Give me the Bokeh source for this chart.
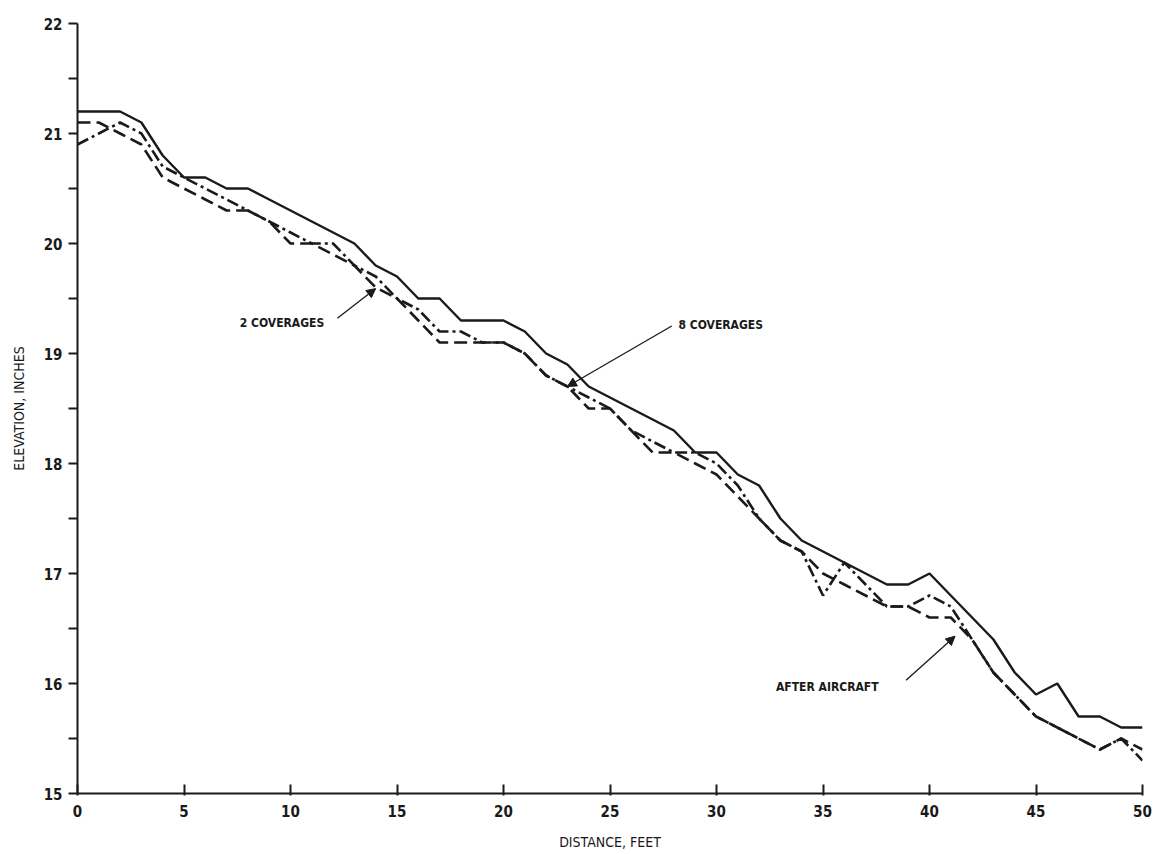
from bokeh.plotting import figure
from bokeh.models import Range1d, Label, Arrow, NormalHead, FixedTicker
from bokeh.embed import file_html
from bokeh.resources import INLINE

# Distance along the test strip, feet
distance = list(range(0, 51))

# Surface elevation, inches
coverages_8 = [21.2, 21.2, 21.2, 21.1, 20.8, 20.6, 20.6, 20.5, 20.5, 20.4,
               20.3, 20.2, 20.1, 20.0, 19.8, 19.7, 19.5, 19.5, 19.3, 19.3,
               19.3, 19.2, 19.0, 18.9, 18.7, 18.6, 18.5, 18.4, 18.3, 18.1,
               18.1, 17.9, 17.8, 17.5, 17.3, 17.2, 17.1, 17.0, 16.9, 16.9,
               17.0, 16.8, 16.6, 16.4, 16.1, 15.9, 16.0, 15.7, 15.7, 15.6,
               15.6]
coverages_2 = [21.1, 21.1, 21.0, 20.9, 20.6, 20.5, 20.4, 20.3, 20.3, 20.2,
               20.0, 20.0, 19.9, 19.8, 19.6, 19.5, 19.3, 19.1, 19.1, 19.1,
               19.1, 19.0, 18.8, 18.7, 18.5, 18.5, 18.3, 18.1, 18.1, 18.0,
               17.9, 17.7, 17.5, 17.3, 17.2, 17.0, 16.9, 16.8, 16.7, 16.7,
               16.6, 16.6, 16.4, 16.1, 15.9, 15.7, 15.6, 15.5, 15.4, 15.5,
               15.4]
after_aircraft = [20.9, 21.0, 21.1, 21.0, 20.7, 20.6, 20.5, 20.4, 20.3, 20.2,
                  20.1, 20.0, 20.0, 19.8, 19.7, 19.5, 19.4, 19.2, 19.2, 19.1,
                  19.1, 19.0, 18.8, 18.7, 18.6, 18.5, 18.3, 18.2, 18.1, 18.1,
                  18.0, 17.8, 17.5, 17.3, 17.2, 16.8, 17.1, 16.9, 16.7, 16.7,
                  16.8, 16.7, 16.4, 16.1, 15.9, 15.7, 15.6, 15.5, 15.4, 15.5,
                  15.3]

x_ticks = [0, 5, 10, 15, 20, 25, 30, 35, 40, 45, 50]
y_ticks = [15, 16, 17, 18, 19, 20, 21, 22]

p = figure(width=1161, height=854, output_backend="svg", toolbar_location=None,
           x_range=Range1d(0, 50), y_range=Range1d(15, 22))
p.min_border_left = 77
p.min_border_right = 19
p.min_border_top = 23
p.min_border_bottom = 61
p.outline_line_color = None
p.xgrid.visible = False
p.ygrid.visible = False
p.background_fill_color = "#ffffff"
p.border_fill_color = "#ffffff"

ink = "#1a1a1a"

p.line(distance, coverages_8, line_color=ink, line_width=2.4)
p.line(distance, coverages_2, line_color=ink, line_width=2.6, line_dash="13 6")
p.line(distance, after_aircraft, line_color=ink, line_width=2.6, line_dash="12 4 3 4")

# axes
p.xaxis.ticker = FixedTicker(ticks=x_ticks)
p.yaxis.ticker = FixedTicker(ticks=y_ticks,
                             minor_ticks=[15.5, 16.5, 17.5, 18.5, 19.5, 20.5, 21.5])
for ax in (p.xaxis[0], p.yaxis[0]):
    ax.axis_line_color = ink
    ax.axis_line_width = 2
    ax.major_tick_line_color = ink
    ax.major_tick_line_width = 2
    ax.minor_tick_line_color = ink
    ax.minor_tick_line_width = 2
    ax.major_label_text_font = "DejaVu Sans Condensed"
    ax.major_label_text_font_style = "bold"
    ax.major_label_text_font_size = "15px"
    ax.major_label_text_color = ink
    ax.axis_label_text_font = "DejaVu Sans Condensed"
    ax.axis_label_text_font_style = "normal"
    ax.axis_label_text_font_size = "14px"
    ax.axis_label_text_color = ink

p.xaxis.major_tick_in = 9
p.xaxis.major_tick_out = 2
p.xaxis.minor_tick_in = 0
p.xaxis.minor_tick_out = 0
p.xaxis.major_label_standoff = 9
p.xaxis.axis_label = "DISTANCE, FEET"
p.xaxis.axis_label_standoff = 14

p.yaxis.major_tick_in = 0
p.yaxis.major_tick_out = 9
p.yaxis.minor_tick_in = 0
p.yaxis.minor_tick_out = 9
p.yaxis.major_label_standoff = 6
p.yaxis.axis_label = "ELEVATION, INCHES"
p.yaxis.axis_label_standoff = 14

# curve annotations
label_font = "DejaVu Sans Condensed"
annotations = [
    ("2 COVERAGES", 9.6, 19.28, 12.2, 19.32, 14.0, 19.59),
    ("8 COVERAGES", 30.2, 19.26, 27.9, 19.25, 23.0, 18.70),
    ("AFTER AIRCRAFT", 35.2, 15.97, 38.9, 16.03, 41.2, 16.43),
]
for text, tx, ty, ax0, ay0, ax1, ay1 in annotations:
    p.add_layout(Label(x=tx, y=ty, text=text, text_font=label_font,
                       text_font_style="bold", text_font_size="12px",
                       text_color=ink, text_align="center",
                       text_baseline="middle"))
    p.add_layout(Arrow(x_start=ax0, y_start=ay0, x_end=ax1, y_end=ay1,
                       line_color=ink, line_width=1.3,
                       end=NormalHead(size=9, fill_color=ink, line_color=ink)))

open("out.html", "w").write(file_html(p, INLINE))
